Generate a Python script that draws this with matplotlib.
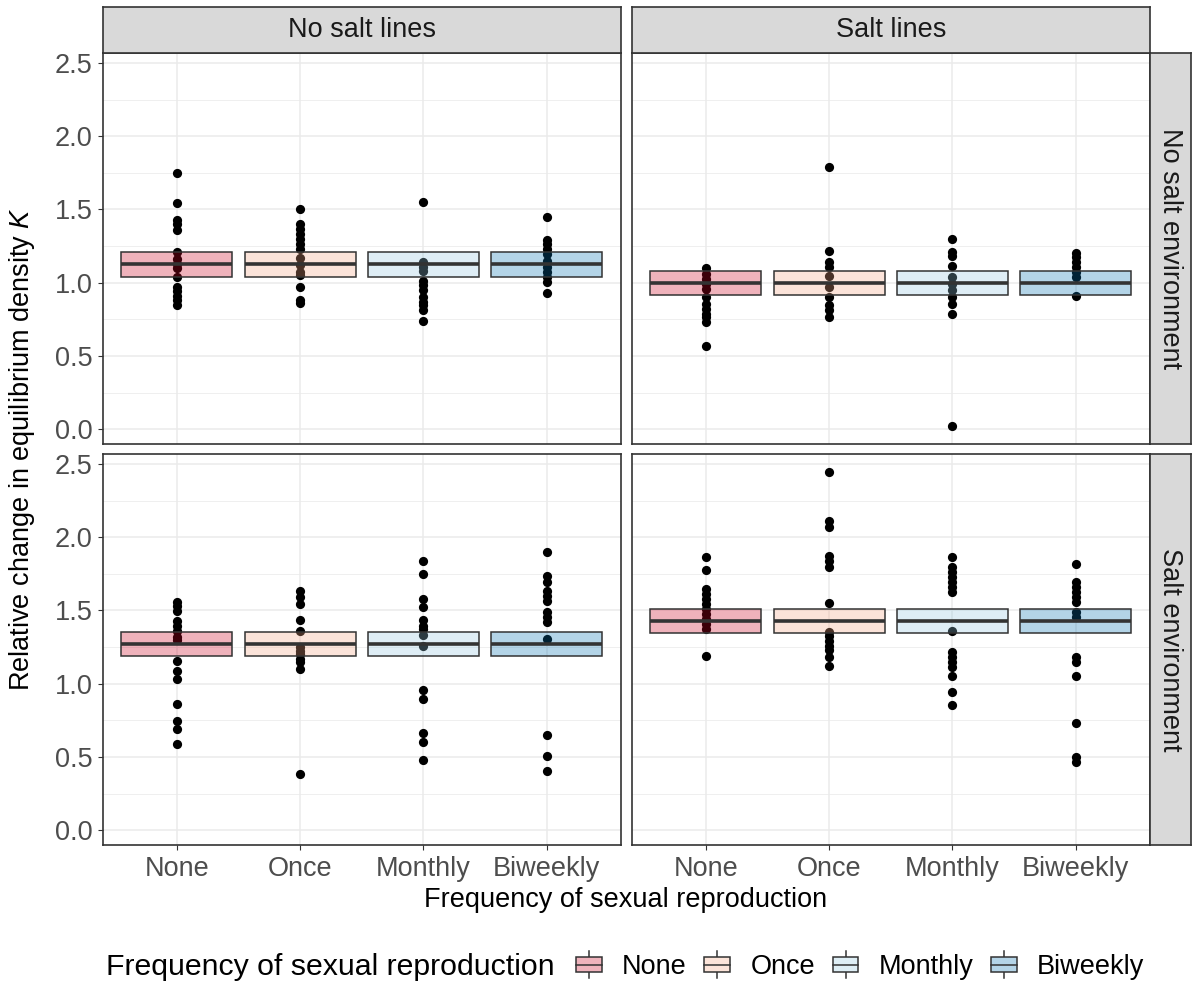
import numpy as np
import matplotlib
matplotlib.use("Agg")
import matplotlib.pyplot as plt
from matplotlib.patches import Rectangle
from matplotlib.lines import Line2D
from matplotlib.legend_handler import HandlerBase
from matplotlib.ticker import MultipleLocator, FormatStrFormatter
from matplotlib.colors import to_rgba

plt.rcParams['font.family'] = 'Liberation Sans'
plt.rcParams['mathtext.fontset'] = 'custom'
plt.rcParams['mathtext.rm'] = 'Liberation Sans'
plt.rcParams['mathtext.it'] = 'Liberation Sans:italic'

freq = ['None', 'Once', 'Monthly', 'Biweekly']
freq_cols = ['#CA0020', '#F4A582', '#92C5DE', '#0571B0']
line_labels = ['No salt lines', 'Salt lines']
env_labels = ['No salt environment', 'Salt environment']

# model estimate per panel, [env][lines] (same for every frequency)
est_lo = [[1.042, 0.915], [1.189, 1.348]]
est_mid = [[1.126, 0.999], [1.270, 1.430]]
est_hi = [[1.208, 1.078], [1.355, 1.510]]

# observed values: no salt lines / no salt environment
nl_ne_none = [1.75, 1.545, 1.43, 1.40, 1.36, 1.21, 1.16, 1.13, 1.10, 1.04, 0.97, 0.94, 0.91, 0.88, 0.85]
nl_ne_once = [1.50, 1.40, 1.37, 1.33, 1.30, 1.265, 1.23, 1.17, 1.12, 1.07, 1.05, 0.97, 0.88, 0.86]
nl_ne_monthly = [1.553, 1.14, 1.106, 1.083, 1.015, 0.981, 0.947, 0.901, 0.867, 0.845, 0.811, 0.738]
nl_ne_biweekly = [1.446, 1.292, 1.265, 1.231, 1.197, 1.151, 1.106, 1.072, 1.037, 1.003, 0.931]
# salt lines / no salt environment
sl_ne_none = [1.101, 1.061, 1.027, 0.993, 0.958, 0.901, 0.856, 0.822, 0.788, 0.765, 0.731, 0.567]
sl_ne_once = [1.790, 1.215, 1.140, 1.106, 1.049, 0.969, 0.901, 0.845, 0.811, 0.765]
sl_ne_monthly = [1.296, 1.208, 1.179, 1.117, 1.037, 0.993, 0.947, 0.901, 0.856, 0.788, 0.020]
sl_ne_biweekly = [1.201, 1.174, 1.140, 1.106, 1.072, 1.037, 0.906]
# no salt lines / salt environment
nl_se_none = [1.555, 1.53, 1.498, 1.430, 1.396, 1.361, 1.316, 1.30, 1.157, 1.088, 1.031, 0.861, 0.747, 0.690, 0.587]
nl_se_once = [1.635, 1.590, 1.544, 1.434, 1.361, 1.248, 1.22, 1.202, 1.17, 1.145, 1.100, 0.383]
nl_se_monthly = [1.840, 1.749, 1.578, 1.521, 1.437, 1.396, 1.373, 1.332, 1.255, 0.956, 0.895, 0.663, 0.603, 0.480]
nl_se_biweekly = [1.901, 1.733, 1.692, 1.635, 1.600, 1.566, 1.487, 1.453, 1.419, 1.305, 0.651, 0.508, 0.401]
# salt lines / salt environment
sl_se_none = [1.863, 1.778, 1.646, 1.612, 1.578, 1.544, 1.510, 1.475, 1.441, 1.407, 1.373, 1.187]
sl_se_once = [2.447, 2.108, 2.068, 1.874, 1.840, 1.794, 1.551, 1.355, 1.327, 1.293, 1.259, 1.232, 1.180, 1.122]
sl_se_monthly = [1.867, 1.794, 1.760, 1.726, 1.692, 1.658, 1.624, 1.361, 1.214, 1.180, 1.146, 1.111, 1.054, 0.941, 0.856]
sl_se_biweekly = [1.817, 1.696, 1.658, 1.624, 1.590, 1.555, 1.487, 1.453, 1.180, 1.146, 1.054, 0.729, 0.497, 0.467]

obs = [[[nl_ne_none, nl_ne_once, nl_ne_monthly, nl_ne_biweekly],
        [sl_ne_none, sl_ne_once, sl_ne_monthly, sl_ne_biweekly]],
       [[nl_se_none, nl_se_once, nl_se_monthly, nl_se_biweekly],
        [sl_se_none, sl_se_once, sl_se_monthly, sl_se_biweekly]]]

W, H = 1192, 985
FS = 19.5
DARK = '#333333'

allv = np.concatenate([np.array(v) for env in obs for grp in env for v in grp])
pad = 0.05 * (allv.max() - allv.min())
ylims = (allv.min() - pad, allv.max() + pad)


class CrossbarKey(HandlerBase):
    def create_artists(self, legend, orig_handle, xdescent, ydescent, width, height, fontsize, trans):
        x0, y0 = -xdescent, -ydescent
        cx, cy = x0 + width / 2, y0 + height / 2
        bh = height * 0.84
        fc = orig_handle.get_facecolor()
        box = Rectangle((x0, cy - bh / 2), width, bh, facecolor=fc, edgecolor=DARK, lw=1.1, transform=trans)
        mid = Line2D([x0, x0 + width], [cy, cy], color=DARK, lw=1.1, transform=trans)
        top = Line2D([cx, cx], [cy + bh / 2, cy + height * 0.72], color=DARK, lw=1.1, transform=trans)
        bot = Line2D([cx, cx], [cy - height * 0.72, cy - bh / 2], color=DARK, lw=1.1, transform=trans)
        return [top, bot, box, mid]


def blend(c, a=0.3):
    r, g, b, _ = to_rgba(c)
    return (a * r + 1 - a, a * g + 1 - a, a * b + 1 - a)


fig = plt.figure(figsize=(W / 100, H / 100), dpi=100)

px_left = [103, 632]
px_top = [53, 454]
pw, ph = 517.5, 391
xs = np.arange(1, 5)

for r in range(2):
    for c in range(2):
        ax = fig.add_axes([px_left[c] / W, 1 - (px_top[r] + ph) / H, pw / W, ph / H])
        ax.set_axisbelow(True)
        for i, vals in enumerate(obs[r][c]):
            ax.scatter(np.full(len(vals), xs[i]), vals, s=44, color='black', lw=0, zorder=2)
        lo, mid, hi = est_lo[r][c], est_mid[r][c], est_hi[r][c]
        ax.bar(xs, hi - lo, bottom=lo, width=0.9,
               color=[to_rgba(col, 0.3) for col in freq_cols], edgecolor=DARK, lw=1.1, zorder=3)
        ax.hlines(np.full(4, mid), xs - 0.45, xs + 0.45, color=DARK, lw=2.6, zorder=4)

        ax.set_xlim(0.4, 4.6)
        ax.set_ylim(*ylims)
        ax.set_xticks(xs)
        ax.set_xticklabels(freq)
        ax.yaxis.set_major_locator(MultipleLocator(0.5))
        ax.yaxis.set_minor_locator(MultipleLocator(0.25))
        ax.yaxis.set_major_formatter(FormatStrFormatter('%.1f'))
        ax.grid(which='major', color='#EBEBEB', lw=1.1)
        ax.grid(which='minor', axis='y', color='#EBEBEB', lw=0.55)
        ax.tick_params(which='minor', length=0)
        ax.tick_params(which='major', length=3.6, width=0.8, color=DARK, pad=4,
                       labelsize=FS, labelcolor='#4D4D4D')
        for s in ax.spines.values():
            s.set_color(DARK)
            s.set_linewidth(1.2)
        if c == 1:
            ax.tick_params(left=False, labelleft=False)
        if r == 0:
            ax.tick_params(bottom=False, labelbottom=False)

# facet strips
for c in range(2):
    sax = fig.add_axes([px_left[c] / W, 1 - 53 / H, pw / W, 45.7 / H], facecolor='#D9D9D9')
    sax.set_xticks([])
    sax.set_yticks([])
    for s in sax.spines.values():
        s.set_color(DARK)
        s.set_linewidth(1.2)
    sax.text(0.5, 0.5, line_labels[c], ha='center', va='center', fontsize=FS, color='#1A1A1A',
             transform=sax.transAxes)
for r in range(2):
    sax = fig.add_axes([1149.5 / W, 1 - (px_top[r] + ph) / H, 41 / W, ph / H], facecolor='#D9D9D9')
    sax.set_xticks([])
    sax.set_yticks([])
    for s in sax.spines.values():
        s.set_color(DARK)
        s.set_linewidth(1.2)
    sax.text(0.5, 0.5, env_labels[r], ha='center', va='center', rotation=-90, fontsize=FS,
             color='#1A1A1A', transform=sax.transAxes)

fig.text(626 / W, 1 - 900 / H, 'Frequency of sexual reproduction', ha='center', va='center', fontsize=FS)
fig.text(22 / W, 1 - 449 / H, r'Relative change in equilibrium density $K$', ha='center', va='center',
         rotation=90, fontsize=FS)

# legend
fig.text(106 / W, 1 - 967 / H, 'Frequency of sexual reproduction', ha='left', va='center', fontsize=21.8)
handles = [Rectangle((0, 0), 1, 1, facecolor=blend(col)) for col in freq_cols]
fig.legend(handles, freq, handler_map={Rectangle: CrossbarKey()}, loc='center left',
           bbox_to_anchor=(576 / W, 1 - 967 / H), ncol=4, frameon=False, fontsize=FS,
           handlelength=0.95, handleheight=0.7, handletextpad=0.75, columnspacing=0.65,
           borderpad=0, borderaxespad=0)

fig.savefig('out.png', dpi=100)
